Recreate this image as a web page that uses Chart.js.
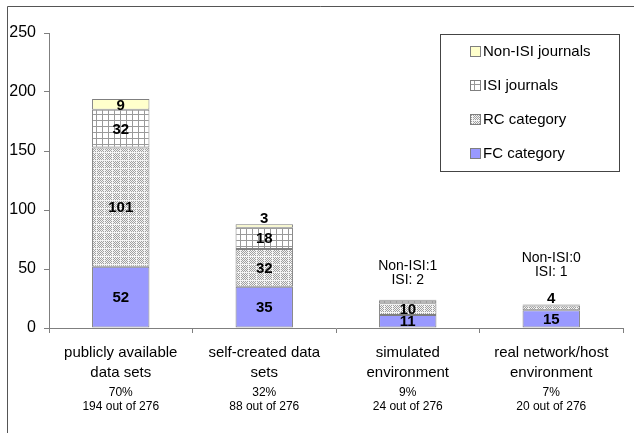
<!DOCTYPE html>
<html>
<head>
<meta charset="utf-8">
<script src="https://cdn.jsdelivr.net/npm/chart.js@4/dist/chart.umd.min.js"></script>
<style>
  html, body { margin: 0; padding: 0; background: #fff; }
  canvas { display: block; }
</style>
</head>
<body>
<canvas id="chart" width="634" height="433"></canvas>
<script>
// Papers per evaluation environment, split by venue category
const categories = [
  ['publicly available', 'data sets'],
  ['self-created data', 'sets'],
  ['simulated', 'environment'],
  ['real network/host', 'environment']
];
const totalPapers = 276;
const fcCategory = [52, 35, 11, 15];
const rcCategory = [101, 32, 10, 4];
const isiJournals = [32, 18, 2, 1];
const nonIsiJournals = [9, 3, 1, 0];
const yTicks = [0, 50, 100, 150, 200, 250];

// Where each segment value is printed: 'in' = inside the segment,
// 'top' = just above the stack, 'note' = in the caption over the bar
const fcLabelPos = ['in', 'in', 'in', 'in'];
const rcLabelPos = ['in', 'in', 'in', 'top'];
const isiLabelPos = ['in', 'in', 'note', 'note'];
const nonIsiLabelPos = ['in', 'top', 'note', 'note'];

const FONT = '"Liberation Sans", Arial, Helvetica, sans-serif';

// Fill patterns for the hatched segments
function stipplePattern() {
  const c = document.createElement('canvas');
  c.width = 8; c.height = 8;
  const g = c.getContext('2d');
  g.fillStyle = '#f4f4f4';
  g.fillRect(0, 0, 8, 8);
  g.fillStyle = '#a0a0a0';
  for (let y = 0; y < 8; y++) {
    for (let x = 0; x < 8; x++) {
      if ((x + y) % 2 === 0 && x !== 0 && y !== 0) g.fillRect(x, y, 1, 1);
    }
  }
  return g.createPattern(c, 'repeat');
}
function gridPattern() {
  const c = document.createElement('canvas');
  c.width = 6; c.height = 6;
  const g = c.getContext('2d');
  g.fillStyle = '#ffffff';
  g.fillRect(0, 0, 6, 6);
  g.fillStyle = '#9a9a9a';
  g.fillRect(0, 0, 6, 1);
  g.fillRect(0, 0, 1, 6);
  return g.createPattern(c, 'repeat');
}

const ctxMain = document.getElementById('chart').getContext('2d');

const datasets = [
  { label: 'FC category', data: fcCategory, backgroundColor: '#9999ff', labelPos: fcLabelPos },
  { label: 'RC category', data: rcCategory, backgroundColor: stipplePattern(), labelPos: rcLabelPos },
  { label: 'ISI journals', data: isiJournals, backgroundColor: gridPattern(), labelPos: isiLabelPos },
  { label: 'Non-ISI journals', data: nonIsiJournals, backgroundColor: '#ffffcc', labelPos: nonIsiLabelPos }
].map(d => Object.assign(d, {
  borderColor: '#7f7f7f',
  borderWidth: 1,
  borderSkipped: false,
  barPercentage: 0.4,
  categoryPercentage: 1.0
}));

// Outer frame lines along the top and left edges
const framePlugin = {
  id: 'frame',
  afterDraw(chart) {
    const g = chart.ctx;
    g.save();
    g.strokeStyle = '#555555';
    g.lineWidth = 1;
    g.beginPath();
    g.moveTo(7.5, 433);
    g.lineTo(7.5, 6.5);
    g.lineTo(634, 6.5);
    g.stroke();
    g.restore();
  }
};

// Segment values, captions over the small bars
const valueLabelPlugin = {
  id: 'valueLabels',
  afterDatasetsDraw(chart) {
    const g = chart.ctx;
    const n = categories.length;
    g.save();
    for (let j = 0; j < n; j++) {
      let stackTop = Infinity;
      chart.data.datasets.forEach((ds, i) => {
        const el = chart.getDatasetMeta(i).data[j];
        stackTop = Math.min(stackTop, el.y, el.base);
      });
      let contentTop = stackTop;
      chart.data.datasets.forEach((ds, i) => {
        const el = chart.getDatasetMeta(i).data[j];
        const pos = ds.labelPos[j];
        const v = ds.data[j];
        g.fillStyle = '#000';
        g.font = 'bold 15px ' + FONT;
        g.textAlign = 'center';
        if (pos === 'in') {
          g.textBaseline = 'middle';
          g.fillText(String(v), el.x, (el.y + el.base) / 2 + 1);
        } else if (pos === 'top') {
          g.textBaseline = 'alphabetic';
          g.fillText(String(v), el.x, stackTop - 1);
          contentTop = Math.min(contentTop, stackTop - 12);
        }
      });
      const noteIdx = [3, 2].filter(i => chart.data.datasets[i].labelPos[j] === 'note');
      if (noteIdx.length) {
        const x = chart.getDatasetMeta(0).data[j].x;
        g.font = '14px ' + FONT;
        g.textAlign = 'center';
        g.textBaseline = 'alphabetic';
        const base = contentTop - 16;
        g.fillText('Non-ISI:' + nonIsiJournals[j], x, base - 14);
        g.fillText('ISI: ' + isiJournals[j], x, base);
      }
    }
    g.restore();
  }
};

// Share of all papers under each category label
const shareLabelPlugin = {
  id: 'shareLabels',
  afterDraw(chart) {
    const g = chart.ctx;
    const xs = chart.scales.x;
    g.save();
    g.fillStyle = '#000';
    g.font = '12px ' + FONT;
    g.textAlign = 'center';
    g.textBaseline = 'alphabetic';
    for (let j = 0; j < categories.length; j++) {
      const total = fcCategory[j] + rcCategory[j] + isiJournals[j] + nonIsiJournals[j];
      const pct = Math.round(total / totalPapers * 100);
      const x = xs.getPixelForValue(j);
      g.fillText(pct + '%', x, 396);
      g.fillText(total + ' out of ' + totalPapers, x, 410);
    }
    g.restore();
  }
};

// Boxed legend, listed top segment first
const legendPlugin = {
  id: 'boxLegend',
  afterDraw(chart) {
    const g = chart.ctx;
    g.save();
    g.strokeStyle = '#444444';
    g.lineWidth = 1;
    g.fillStyle = '#ffffff';
    g.fillRect(440.5, 34.5, 179, 137);
    g.strokeRect(440.5, 34.5, 179, 137);
    const order = [3, 2, 1, 0];
    g.font = '15px ' + FONT;
    g.textAlign = 'left';
    g.textBaseline = 'middle';
    order.forEach((i, k) => {
      const ds = chart.data.datasets[i];
      const cy = 51 + k * 34;
      g.fillStyle = ds.backgroundColor;
      g.fillRect(470.5, cy - 4.5, 10, 10);
      g.strokeStyle = '#7f7f7f';
      g.strokeRect(470.5, cy - 4.5, 10, 10);
      g.fillStyle = '#000';
      g.fillText(ds.label, 483, cy + 1);
    });
    g.restore();
  }
};

new Chart(ctxMain, {
  type: 'bar',
  data: { labels: categories, datasets },
  options: {
    responsive: false,
    animation: false,
    events: [],
    layout: { padding: { left: 0, right: 11, top: 33, bottom: 0 } },
    plugins: {
      legend: { display: false },
      tooltip: { enabled: false }
    },
    scales: {
      x: {
        stacked: true,
        offset: true,
        grid: {
          offset: true,
          drawOnChartArea: false,
          drawTicks: true,
          tickLength: 5,
          color: '#7f7f7f'
        },
        border: { color: '#7f7f7f', width: 1 },
        ticks: {
          color: '#000',
          font: { family: FONT, size: 15, lineHeight: 1.33 },
          padding: 10,
          maxRotation: 0,
          autoSkip: false
        },
        afterFit(scale) { scale.height = 105; }
      },
      y: {
        stacked: true,
        min: 0,
        max: 250,
        afterBuildTicks(scale) { scale.ticks = yTicks.map(v => ({ value: v })); },
        grid: {
          drawOnChartArea: false,
          drawTicks: true,
          tickLength: 5,
          color: '#7f7f7f'
        },
        border: { color: '#7f7f7f', width: 1 },
        ticks: {
          color: '#000',
          font: { family: FONT, size: 16 },
          padding: 8
        },
        afterFit(scale) { scale.width = 49; }
      }
    }
  },
  plugins: [framePlugin, valueLabelPlugin, shareLabelPlugin, legendPlugin]
});
</script>
</body>
</html>
